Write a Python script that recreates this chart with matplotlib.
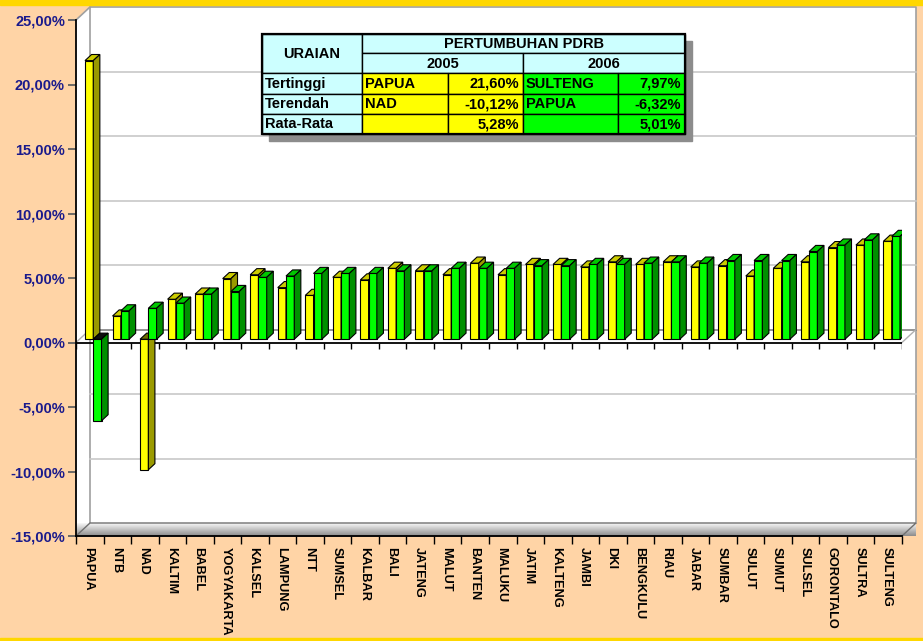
import numpy as np
import matplotlib
matplotlib.use("Agg")
from matplotlib import pyplot as plt
from matplotlib.patches import Polygon, Rectangle

plt.rcParams['font.family'] = ['Liberation Sans', 'DejaVu Sans']

provinsi = ["PAPUA", "NTB", "NAD", "KALTIM", "BABEL", "YOGYAKARTA", "KALSEL",
            "LAMPUNG", "NTT", "SUMSEL", "KALBAR", "BALI", "JATENG", "MALUT",
            "BANTEN", "MALUKU", "JATIM", "KALTENG", "JAMBI", "DKI", "BENGKULU",
            "RIAU", "JABAR", "SUMBAR", "SULUT", "SUMUT", "SULSEL", "GORONTALO",
            "SULTRA", "SULTENG"]
tumbuh_2005 = [21.60, 1.8, -10.12, 3.1, 3.5, 4.7, 5.0, 4.0, 3.4, 4.8, 4.6, 5.5,
               5.3, 5.0, 5.9, 5.0, 5.8, 5.8, 5.6, 6.0, 5.8, 6.0, 5.6, 5.7, 4.9,
               5.5, 6.0, 7.1, 7.3, 7.6]
tumbuh_2006 = [-6.32, 2.2, 2.4, 2.8, 3.5, 3.7, 4.8, 4.9, 5.1, 5.1, 5.1, 5.3,
               5.3, 5.5, 5.5, 5.5, 5.7, 5.7, 5.8, 5.8, 5.9, 6.0, 5.9, 6.1, 6.1,
               6.1, 6.8, 7.3, 7.7, 7.97]
y_ticks = [25, 20, 15, 10, 5, 0, -5, -10, -15]

tabel_header = ["URAIAN", "PERTUMBUHAN PDRB", "2005", "2006"]
tabel_baris = ["Tertinggi", "Terendah", "Rata-Rata"]
tabel_2005 = [["PAPUA", "21,60%"], ["NAD", "-10,12%"], ["", "5,28%"]]
tabel_2006 = [["SULTENG", "7,97%"], ["PAPUA", "-6,32%"], ["", "5,01%"]]

PEACH = '#FFD4A6'
W, H = 923, 641
n = len(provinsi)
ymin, ymax = -15, 25

fig = plt.figure(figsize=(W / 100, H / 100), dpi=100, facecolor=PEACH)
fig.patches.append(Rectangle((0, 1 - 5 / H), 1, 5 / H, transform=fig.transFigure,
                             color='#FFD700', zorder=0))
fig.patches.append(Rectangle((0, 0), 1, 3 / H, transform=fig.transFigure,
                             color='#FFD700', zorder=0))

# front plane of the 3d box: x 76..902 px, y 20..536 px
ax = fig.add_axes([76 / W, 1 - 536 / H, 826 / W, 516 / H])
ax.set_xlim(0, n)
ax.set_ylim(ymin, ymax)
ax.patch.set_visible(False)

px_x = 826 / n
px_y = 516 / (ymax - ymin)
DX = 14 / px_x
DY = 13 / px_y

# white walls
wall = Polygon([(0, ymin), (0, ymax), (DX, ymax + DY), (n + DX, ymax + DY),
                (n + DX, ymin + DY), (n, ymin)], closed=True,
               facecolor='white', edgecolor='none', zorder=0, clip_on=False)
ax.add_patch(wall)
ax.plot([DX, DX, n + DX, n + DX], [ymin + DY, ymax + DY, ymax + DY, ymin + DY],
        color='#A0A0A0', lw=1.2, zorder=0.5, clip_on=False)
ax.plot([0, DX], [ymax, ymax + DY], color='#A0A0A0', lw=1.2, zorder=0.5, clip_on=False)
for t in y_ticks[1:-1]:
    c = '#808080' if t == 0 else '#C8C8C8'
    ax.plot([DX, n + DX], [t + DY, t + DY], color=c, lw=1.2, zorder=0.6, clip_on=False)
ax.plot([0, DX], [0, DY], color='#B0B0B0', lw=1, zorder=0.6)
ax.plot([n, n + DX], [0, DY], color='#B0B0B0', lw=1, zorder=0.6, clip_on=False)

# floor slab at the bottom with gradient
floor = Polygon([(0, ymin), (DX, ymin + DY), (n + DX, ymin + DY), (n, ymin)],
                closed=True, facecolor='none', edgecolor='#707070', lw=1,
                zorder=1.1, clip_on=False)
ax.add_patch(floor)
grad = np.linspace(0.55, 0.97, 50).reshape(-1, 1)
im = ax.imshow(np.dstack([grad, grad, grad]), extent=(0, n + DX, ymin + DY, ymin),
               aspect='auto', zorder=1, clip_on=False)
im.set_clip_path(floor)
ax.set_xlim(0, n)
ax.set_ylim(ymin, ymax)

# axis at zero with ticks
ax.axhline(0, color='black', lw=1.3, zorder=1.5, xmin=-0.01)
ax.vlines(np.arange(n + 1), -6 / px_y, 0, color='black', lw=1, zorder=1.5)

# 3d bars
f1, f2 = 0.25, 0.72
w = 0.3
ddx = (f2 - f1) * DX
ddy = (f2 - f1) * DY
base = f1 * DY
kleur = [('#FFFF00', '#CCCC00', '#9A9A00', '#6E6E00'),
         ('#00FF00', '#00C800', '#009000', '#101010')]


def bar3d(x0, val, col, z):
    front, top, side, dark = col
    y0, y1 = base, base + val
    ax.bar(x0, val, width=w, bottom=base, align='edge', color=front,
           edgecolor='black', lw=0.8, zorder=z)
    ytop = max(y0, y1)
    ybot = min(y0, y1)
    tc = top if val >= 0 else dark
    ax.add_patch(Polygon([(x0, ytop), (x0 + ddx, ytop + ddy), (x0 + w + ddx, ytop + ddy),
                          (x0 + w, ytop)], closed=True, facecolor=tc,
                         edgecolor='black', lw=0.8, zorder=z))
    ax.add_patch(Polygon([(x0 + w, ybot), (x0 + w, ytop), (x0 + w + ddx, ytop + ddy),
                          (x0 + w + ddx, ybot + ddy)], closed=True, facecolor=side,
                         edgecolor='black', lw=0.8, zorder=z))


for i in range(n):
    xc = i + 0.5 + f1 * DX
    bar3d(xc - w, tumbuh_2005[i], kleur[0], 3 + i * 0.01)
    bar3d(xc, tumbuh_2006[i], kleur[1], 3.005 + i * 0.01)

# axes styling
for s in ['top', 'right']:
    ax.spines[s].set_visible(False)
ax.spines['left'].set_color('black')
ax.spines['left'].set_linewidth(1.3)
ax.spines['bottom'].set_color('black')
ax.spines['bottom'].set_linewidth(1.3)
ax.set_yticks(y_ticks)
ax.set_yticklabels([f"{t:,.2f}%".replace('.', ',') for t in y_ticks],
                   fontsize=10.5, fontweight='bold', color='#1A1A8C')
ax.tick_params(axis='y', length=6, width=1.3, color='#606060', pad=2)
ax.set_xticks(np.arange(n + 1))
ax.set_xticklabels([])
ax.tick_params(axis='x', which='major', length=6, width=1, color='black')
ax.set_xticks(np.arange(n) + 0.45, minor=True)
ax.set_xticklabels(provinsi, minor=True, rotation=270, fontsize=9.2,
                   fontweight='bold', va='top', ha='center')
ax.tick_params(axis='x', which='minor', length=0, pad=8)

# summary table
tx = [262, 362, 448, 523, 618, 685]
ty = [34, 53, 73, 94, 114, 134]
tab = fig.add_axes([0, 0, 1, 1], zorder=10)
tab.set_xlim(0, W)
tab.set_ylim(H, 0)
tab.axis('off')
tab.patch.set_visible(False)
tab.add_patch(Rectangle((tx[0] + 7, ty[0] + 7), tx[-1] - tx[0], ty[-1] - ty[0],
                        color='#8C8C8C', zorder=0))
CYAN = '#CCFFFF'
fs = 10.5


def cell(x0, y0, x1, y1, fc, text='', ha='center', bold=True):
    tab.add_patch(Rectangle((x0, y0), x1 - x0, y1 - y0, facecolor=fc,
                            edgecolor='black', lw=1, zorder=1))
    if text:
        if ha == 'left':
            tx_ = x0 + 3
        elif ha == 'right':
            tx_ = x1 - 4
        else:
            tx_ = (x0 + x1) / 2
        tab.text(tx_, (y0 + y1) / 2 + 0.5, text, ha=ha, va='center', fontsize=fs,
                 fontweight='bold', zorder=2)


cell(tx[0], ty[0], tx[1], ty[2], CYAN, tabel_header[0])
cell(tx[1], ty[0], tx[5], ty[1], CYAN, tabel_header[1])
cell(tx[1], ty[1], tx[3], ty[2], CYAN, tabel_header[2])
cell(tx[3], ty[1], tx[5], ty[2], CYAN, tabel_header[3])
for r, nama in enumerate(tabel_baris):
    y0, y1 = ty[2 + r], ty[3 + r]
    cell(tx[0], y0, tx[1], y1, CYAN, nama, ha='left')
    cell(tx[1], y0, tx[2], y1, '#FFFF00', tabel_2005[r][0], ha='left')
    cell(tx[2], y0, tx[3], y1, '#FFFF00', tabel_2005[r][1], ha='right')
    cell(tx[3], y0, tx[4], y1, '#00FF00', tabel_2006[r][0], ha='left')
    cell(tx[4], y0, tx[5], y1, '#00FF00', tabel_2006[r][1], ha='right')
tab.add_patch(Rectangle((tx[0], ty[0]), tx[-1] - tx[0], ty[-1] - ty[0],
                        facecolor='none', edgecolor='black', lw=1.6, zorder=3))

fig.savefig("out.png", dpi=100, facecolor=PEACH)
